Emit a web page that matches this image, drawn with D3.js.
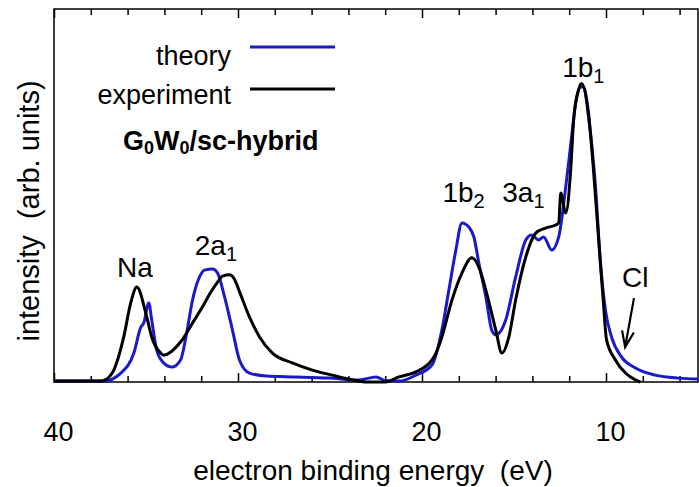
<!DOCTYPE html>
<html>
<head>
<meta charset="utf-8">
<script src="https://cdn.jsdelivr.net/npm/d3@7"></script>
<style>
    body { margin: 0; background: #fff; }
    text { font-family: "Liberation Sans", Arial, Helvetica, sans-serif; fill: #000; white-space: pre; }
</style>
</head>
<body>
<div id="chart"></div>
<script>
var svgWidth = 699;
var svgHeight = 487;

var margin = { top: 9, right: 1, bottom: 105, left: 54 };
var width = svgWidth - margin.left - margin.right;
var height = svgHeight - margin.top - margin.bottom;

// experiment (black), energy in eV and intensity in arb. units
var expEnergy = [40, 37.5, 37.3, 36.75, 36.21, 35.83, 35.5, 35.01, 34.69, 34.2,
    34.04, 33.12, 32.41, 31.87, 31.54, 31.11, 30.84, 30.46, 30.2, 29.92, 29.38,
    28.83, 28.13, 27.05, 25.96, 24.88, 23.79, 23.04, 22.0, 21.25, 20.33,
    19.46, 19.24, 18.92, 18.37, 17.83, 17.29, 16.91, 16.53, 15.99, 15.66,
    15.28, 14.91, 14.36, 13.82, 13.28, 12.74, 12.57, 12.46, 12.19, 11.92,
    11.76, 11.49, 11.33, 10.95, 10.68, 10.41, 10.14, 9.97, 9.49, 8.94,
    8.4, 8.13];
var expIntensity = [0.003, 0.003, 0.005, 0.040, 0.151, 0.265, 0.318, 0.231, 0.151, 0.097,
    0.090, 0.134, 0.204, 0.258, 0.295, 0.335, 0.355, 0.359, 0.345, 0.303, 0.218,
    0.151, 0.097, 0.064, 0.040, 0.023, 0.007, 0.0, 0.0, 0.017, 0.034,
    0.074, 0.097, 0.151, 0.275, 0.365, 0.416, 0.385, 0.308, 0.174, 0.097,
    0.151, 0.275, 0.419, 0.499, 0.516, 0.526, 0.533, 0.633, 0.566, 0.710,
    0.878, 0.979, 1.0, 0.901, 0.710, 0.486, 0.265, 0.141, 0.074, 0.030,
    0.007, 0.0];

// theory (blue)
var theoEnergy = [40, 37.29, 36.37, 35.66, 35.28, 35.12, 34.85, 34.69, 34.42, 34.04,
    33.6, 33.12, 32.79, 32.47, 32.09, 31.82, 31.38, 31.11, 30.73, 30.3,
    29.92, 29.38, 28.46, 26.83, 25.04, 23.41, 22.49, 22.0, 21.25, 20.33,
    19.46, 18.92, 18.54, 18.16, 17.83, 17.45, 17.18, 16.91, 16.53, 16.21,
    15.99, 15.45, 14.91, 14.36, 14.04, 13.66, 13.39, 12.95, 12.57, 12.19,
    11.87, 11.65, 11.38, 11.22, 10.95, 10.57, 10.3, 10.03, 9.7, 9.16,
    8.4, 7.32, 6.07, 5.0];
var theoIntensity = [0.003, 0.003, 0.030, 0.097, 0.184, 0.198, 0.265, 0.208, 0.107, 0.064,
    0.050, 0.074, 0.164, 0.275, 0.352, 0.375, 0.379, 0.365, 0.285, 0.174,
    0.074, 0.030, 0.020, 0.017, 0.013, 0.007, 0.017, 0.005, 0.003, 0.023,
    0.057, 0.174, 0.308, 0.442, 0.533, 0.519, 0.486, 0.399, 0.285, 0.174,
    0.158, 0.208, 0.352, 0.476, 0.493, 0.476, 0.486, 0.442, 0.486, 0.653,
    0.821, 0.935, 0.989, 0.989, 0.888, 0.653, 0.399, 0.241, 0.151, 0.084,
    0.047, 0.023, 0.013, 0.010];

// ticks
var majorTicks = [40, 30, 20, 10];
var minorTicks = [38, 36, 34, 32, 28, 26, 24, 22, 18, 16, 14, 12, 8, 6];

// peak labels: main text, subscript, position (eV, intensity)
var peakText = ["Na", "2a", "1b", "3a", "1b", "Cl"];
var peakSub = ["", "1", "2", "1", "1", ""];
var peakEnergy = [36.58, 32.35, 18.89, 15.64, 12.38, 9.13];
var peakIntensity = [0.352, 0.426, 0.603, 0.603, 1.022, 0.318];

// Cl arrow, tail -> head
var arrowEnergy = [8.48, 8.96];
var arrowIntensity = [0.281, 0.117];

var svg = d3.select("#chart")
    .append("svg")
    .attr("width", svgWidth)
    .attr("height", svgHeight);

var chartGroup = svg.append("g")
    .attr("transform", `translate(${margin.left}, ${margin.top})`);

var xScale = d3.scaleLinear().domain([40, 5]).range([0, width]);
var yScale = d3.scaleLinear().domain([0, 1.25]).range([height, 0]);

// bottom axis, ticks pointing inward
var bottomMinor = d3.axisBottom(xScale).tickValues(minorTicks).tickSize(-6).tickFormat("");
var bottomMajor = d3.axisBottom(xScale).tickValues(majorTicks).tickSize(-9).tickPadding(40);
var topMinor = d3.axisTop(xScale).tickValues(minorTicks).tickSize(-6).tickFormat("");
var topMajor = d3.axisTop(xScale).tickValues(majorTicks).tickSize(-9).tickFormat("");

[bottomMinor, bottomMajor].forEach(function(ax) {
    chartGroup.append("g")
        .attr("class", "axis")
        .attr("transform", `translate(0, ${height})`)
        .call(ax);
});
[topMinor, topMajor].forEach(function(ax) {
    chartGroup.append("g")
        .attr("class", "axis")
        .call(ax);
});

chartGroup.selectAll(".axis .domain").remove();
chartGroup.selectAll(".axis line").attr("stroke", "#000").attr("stroke-width", 1.5);
chartGroup.selectAll(".axis text")
    .attr("dx", 4)
    .style("font-size", "27px")
    .style("font-family", "'Liberation Sans', Arial, sans-serif")
    .attr("fill", "#000");

// frame
chartGroup.append("rect")
    .attr("x", 0)
    .attr("y", 0)
    .attr("width", width)
    .attr("height", height)
    .attr("fill", "none")
    .attr("stroke", "#000")
    .attr("stroke-width", 1.5);

var line = d3.line()
    .x(d => xScale(d[0]))
    .y(d => yScale(d[1]))
    .curve(d3.curveMonotoneX);

var theoData = d3.zip(theoEnergy, theoIntensity);
var expData = d3.zip(expEnergy, expIntensity);

chartGroup.append("path")
    .datum(theoData)
    .attr("d", line)
    .attr("fill", "none")
    .attr("stroke", "#1a1ac8")
    .attr("stroke-width", 3)
    .attr("stroke-linejoin", "round");

chartGroup.append("path")
    .datum(expData)
    .attr("d", line)
    .attr("fill", "none")
    .attr("stroke", "#000")
    .attr("stroke-width", 3)
    .attr("stroke-linejoin", "round");

// peak labels
var peaks = chartGroup.selectAll(".peak")
    .data(d3.range(peakText.length))
    .enter()
    .append("text")
    .attr("class", "peak")
    .attr("x", i => xScale(peakEnergy[i]))
    .attr("y", i => yScale(peakIntensity[i]))
    .style("font-size", "28px");
peaks.append("tspan").text(i => peakText[i]);
peaks.append("tspan")
    .attr("dy", 6)
    .style("font-size", "20px")
    .text(i => peakSub[i]);

// arrow to Cl shoulder
var ax0 = xScale(arrowEnergy[0]), ay0 = yScale(arrowIntensity[0]);
var ax1 = xScale(arrowEnergy[1]), ay1 = yScale(arrowIntensity[1]);
var ang = Math.atan2(ay1 - ay0, ax1 - ax0);
var headLen = 17, headAng = 0.36;
chartGroup.append("path")
    .attr("d", `M${ax0},${ay0}L${ax1},${ay1}` +
        `M${ax1 - headLen * Math.cos(ang - headAng)},${ay1 - headLen * Math.sin(ang - headAng)}L${ax1},${ay1}` +
        `L${ax1 - headLen * Math.cos(ang + headAng)},${ay1 - headLen * Math.sin(ang + headAng)}`)
    .attr("fill", "none")
    .attr("stroke", "#000")
    .attr("stroke-width", 2.2);

// legend
var legendGroup = svg.append("g");
legendGroup.append("text")
    .attr("x", 231).attr("y", 65)
    .attr("text-anchor", "end")
    .style("font-size", "27px")
    .text("theory");
legendGroup.append("line")
    .attr("x1", 250).attr("x2", 335).attr("y1", 47).attr("y2", 47)
    .attr("stroke", "#1a1ac8").attr("stroke-width", 3);
legendGroup.append("text")
    .attr("x", 231).attr("y", 104)
    .attr("text-anchor", "end")
    .style("font-size", "27px")
    .text("experiment");
legendGroup.append("line")
    .attr("x1", 250).attr("x2", 335).attr("y1", 89).attr("y2", 89)
    .attr("stroke", "#000").attr("stroke-width", 3);

var method = legendGroup.append("text")
    .attr("x", 123).attr("y", 150)
    .style("font-size", "27px")
    .style("font-weight", "bold");
method.append("tspan").text("G");
method.append("tspan").attr("dy", 4).style("font-size", "18px").text("0");
method.append("tspan").attr("dy", -4).text("W");
method.append("tspan").attr("dy", 4).style("font-size", "18px").text("0");
method.append("tspan").attr("dy", -4).text("/sc-hybrid");

// axis titles
svg.append("text")
    .attr("x", 373)
    .attr("y", 480)
    .attr("text-anchor", "middle")
    .style("font-size", "28px")
    .text("electron binding energy  (eV)");

svg.append("text")
    .attr("transform", "translate(39, 211) rotate(-90)")
    .attr("text-anchor", "middle")
    .style("font-size", "29px")
    .text("intensity  (arb. units)");
</script>
</body>
</html>
